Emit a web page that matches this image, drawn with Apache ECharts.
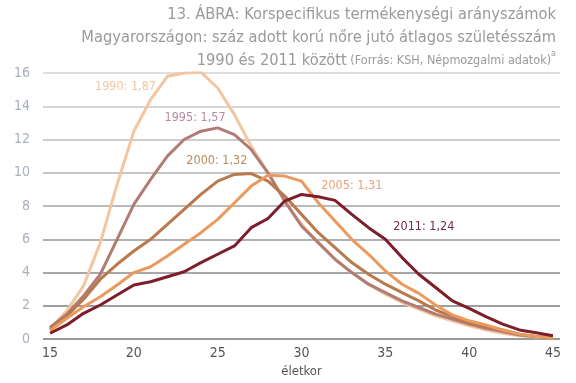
<!DOCTYPE html>
<html>
<head>
<meta charset="utf-8">
<script src="https://cdn.jsdelivr.net/npm/echarts@6/dist/echarts.min.js"></script>
<style>html,body{margin:0;padding:0;background:#fff}#c{width:576px;height:383px}</style>
</head>
<body>
<div id="c"></div>
<script>
const ages = [15,16,17,18,19,20,21,22,23,24,25,26,27,28,29,30,31,32,33,34,35,36,37,38,39,40,41,42,43,44,45];
const s1990 = [0.6,1.7,3.2,5.8,9.3,12.5,14.4,15.8,16.0,16.05,15.1,13.5,11.6,10.0,8.3,6.9,5.8,4.8,4.0,3.3,2.7,2.2,1.8,1.4,1.1,0.8,0.55,0.35,0.2,0.12,0.07];
const s1995 = [0.7,1.5,2.6,3.9,6.0,8.1,9.6,11.0,12.0,12.5,12.7,12.3,11.4,10.0,8.3,6.8,5.8,4.8,4.0,3.3,2.8,2.3,1.9,1.5,1.2,0.9,0.65,0.45,0.25,0.15,0.08];
const s2000 = [0.6,1.4,2.4,3.6,4.5,5.3,6.0,6.9,7.8,8.7,9.5,9.9,9.95,9.5,8.6,7.5,6.4,5.5,4.6,3.9,3.3,2.8,2.3,1.75,1.35,1.0,0.75,0.55,0.3,0.15,0.07];
const s2005 = [0.5,1.25,1.95,2.55,3.25,4.0,4.35,5.0,5.7,6.4,7.2,8.2,9.2,9.85,9.8,9.5,8.2,7.1,6.0,5.1,4.1,3.3,2.75,2.05,1.45,1.1,0.85,0.55,0.3,0.15,0.08];
const s2011 = [0.35,0.85,1.55,2.05,2.65,3.25,3.45,3.75,4.05,4.6,5.1,5.6,6.7,7.25,8.3,8.7,8.56,8.34,7.5,6.7,6.0,4.9,3.9,3.1,2.3,1.85,1.35,0.9,0.55,0.38,0.2];
const seriesNames = ['1990','1995','2000','2005','2011'];
const seriesLabels = ['1990: 1,87','1995: 1,57','2000: 1,32','2005: 1,31','2011: 1,24'];
const labelAt = [[19.5,15.2],[23.65,13.3],[24.95,10.75],[33.0,9.25],[37.3,6.75]];
const xTicks = [15,20,25,30,35,40,45];
const titleLines = ['13. ÁBRA: Korspecifikus termékenységi arányszámok','Magyarországon: száz adott korú nőre jutó átlagos születésszám','1990 és 2011 között'];
const sourceText = '(Forrás: KSH, Népmozgalmi adatok)';
const xName = 'életkor';

const FONT = "'Liberation Sans Narrow','DejaVu Sans Condensed','Roboto Condensed',sans-serif";
const lineColors = ['#f3c6a0','#b07c74','#b87a4c','#eb9a5e','#7d1e2c'];
const labelColors = ['#f3c6a0','#b48aa0','#b98b5e','#eba275','#6f2a50'];
const dataSets = [s1990,s1995,s2000,s2005,s2011];

const chart = echarts.init(document.getElementById('c'), null, {renderer:'canvas'});
const series = dataSets.map((d,i)=>({
  name: seriesNames[i],
  type: 'line',
  data: ages.map((a,j)=>[a,d[j]]),
  showSymbol: false,
  symbol: 'none',
  lineStyle: {color: lineColors[i], width: 3},
  itemStyle: {color: lineColors[i]},
  z: 2+i,
  markPoint: {
    symbol: 'circle', symbolSize: 0,
    data: [{coord: labelAt[i], value: seriesLabels[i]}],
    label: {show: true, position: 'inside', formatter: seriesLabels[i], color: labelColors[i], fontFamily: FONT, fontSize: 12.5}
  }
}));

const TC = '#9a9a9a';
chart.setOption({
  animation: false,
  grid: {left: 43, right: 16, top: 73, bottom: 42},
  xAxis: {
    type: 'value', min: 14.58, max: 45.42,
    name: xName, nameLocation: 'middle', nameGap: 22,
    nameTextStyle: {color: '#555', fontFamily: FONT, fontSize: 13},
    axisLine: {show: false}, axisTick: {show: false}, splitLine: {show: false},
    axisLabel: {customValues: xTicks, color: '#555', fontFamily: FONT, fontSize: 14, margin: 7}
  },
  yAxis: {
    type: 'value', min: 0, max: 16, interval: 2,
    axisLine: {show: false}, axisTick: {show: false},
    axisLabel: {color: '#a9afbd', fontFamily: FONT, fontSize: 14, margin: 13},
    splitLine: {lineStyle: {width: 2, color: ['#999999','#9f9f9f','#a7a7a7','#b0b0b0','#bababa','#c5c5c5','#cecece','#d6d6d6','#dedede']}}
  },
  graphic: [{
    type: 'text', right: 20, top: 7,
    style: {
      text: '{a|' + titleLines[0] + '}\n{a|' + titleLines[1] + '}\n{a|' + titleLines[2] + '}{b| ' + sourceText + '}{c|a}',
      align: 'right',
      fill: TC,
      rich: {
        a: {fontFamily: FONT, fontSize: 16.3, fill: TC, lineHeight: 23, align: 'right'},
        b: {fontFamily: FONT, fontSize: 12.5, fill: TC, lineHeight: 23, align: 'right'},
        c: {fontFamily: FONT, fontSize: 9, fill: TC, lineHeight: 23, verticalAlign: 'top', align: 'right'}
      }
    }
  }],
  series: series
});
</script>
</body>
</html>
